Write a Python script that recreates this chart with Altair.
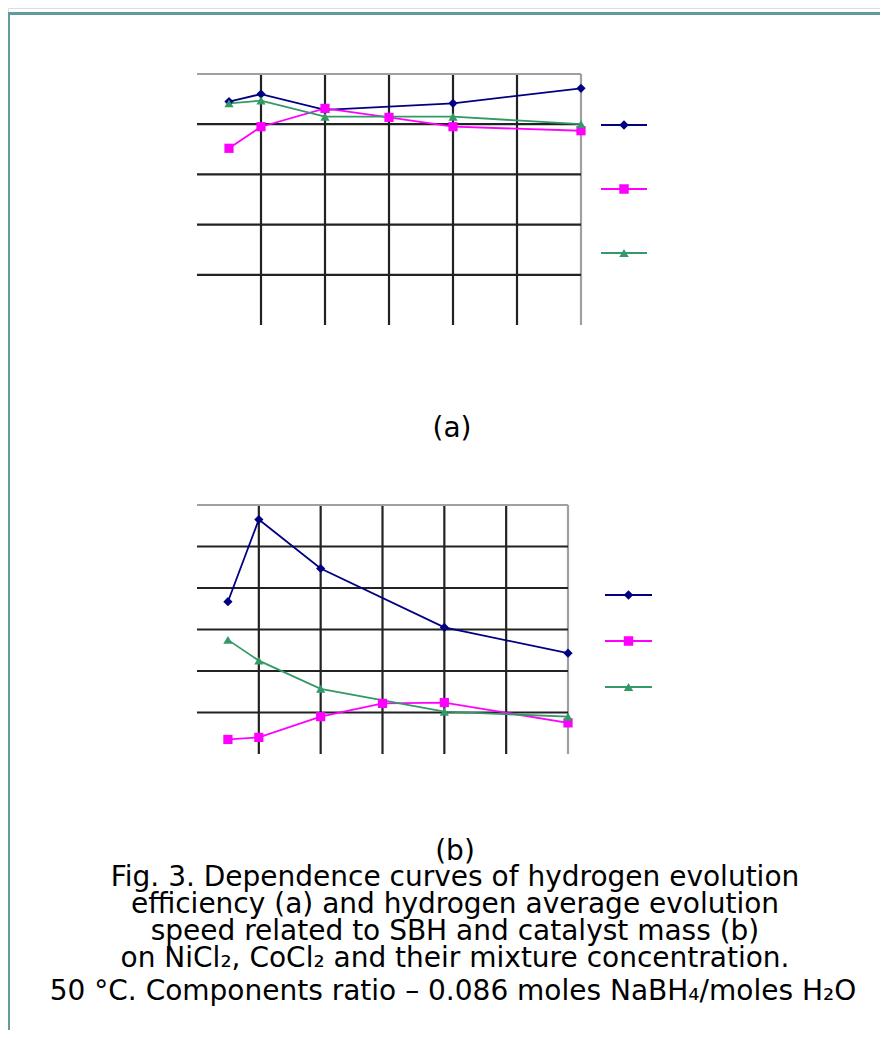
import altair as alt
import pandas as pd

# ---------------- data ----------------
series = ["NiCl2", "CoCl2", "NiCl2+CoCl2"]
series_colors = ["#000080", "#FF00FF", "#339966"]
series_shapes = ["diamond", "square", "triangle-up"]

# panel (a): hydrogen evolution efficiency
a_ni_x = [0.5, 1, 2, 4, 6]
a_ni_y = [89.0, 92.0, 85.7, 88.3, 94.3]
a_co_x = [0.5, 1, 2, 3, 4, 6]
a_co_y = [70.4, 79.0, 86.3, 82.7, 79.0, 77.4]
a_mix_x = [0.5, 1, 2, 4, 6]
a_mix_y = [88.3, 89.4, 83.0, 83.0, 80.0]

# panel (b): hydrogen average evolution speed
b_ni_x = [0.5, 1, 2, 4, 6]
b_ni_y = [3.67, 5.65, 4.47, 3.05, 2.43]
b_co_x = [0.5, 1, 2, 3, 4, 6]
b_co_y = [0.35, 0.40, 0.90, 1.22, 1.24, 0.75]
b_mix_x = [0.5, 1, 2, 4, 6]
b_mix_y = [2.75, 2.25, 1.57, 1.02, 0.90]

a_xgrid = [1, 2, 3, 4, 5, 6]
a_ygrid = [20, 40, 60, 80, 100]
b_xgrid = [1, 2, 3, 4, 5, 6]
b_ygrid = [1, 2, 3, 4, 5, 6]

caption_lines = [
    "(b)",
    "Fig. 3. Dependence curves of hydrogen evolution",
    "efficiency (a) and hydrogen average evolution",
    "speed related to SBH and catalyst mass (b)",
    "on NiCl\u2082, CoCl\u2082 and their mixture concentration.",
]
last_line = "50 \u00b0C. Components ratio \u2013 0.086 moles NaBH\u2084/moles H\u2082O"
label_a = "(a)"

FONT = "DejaVu Sans"
FS = 28


def long_df(xs_list, ys_list):
    rows = []
    for s, xs, ys in zip(series, xs_list, ys_list):
        for x, y in zip(xs, ys):
            rows.append({"series": s, "x": x, "y": y})
    return pd.DataFrame(rows)


def panel(df, xdom, ydom, xrange_, yrange_, xgrid, ygrid, leg_range, leg_x0, leg_x1):
    X = lambda f: alt.X(f, type="quantitative", scale=alt.Scale(domain=xdom, range=xrange_), axis=None)
    Y = lambda f: alt.Y(f, type="quantitative", scale=alt.Scale(domain=ydom, range=yrange_), axis=None)
    gcol = alt.Color("kind:N", scale=alt.Scale(domain=["inner", "outer"], range=["#222222", "#a0a0a0"]), legend=None)

    vg = pd.DataFrame({"x": xgrid, "y0": ydom[0], "y1": ydom[1],
                       "kind": ["outer" if v == xdom[1] else "inner" for v in xgrid]})
    hg = pd.DataFrame({"y": ygrid, "x0": xdom[0], "x1": xdom[1],
                       "kind": ["outer" if v == ydom[1] else "inner" for v in ygrid]})
    vrule = alt.Chart(vg).mark_rule(strokeWidth=2.2).encode(x=X("x"), y=Y("y0"), y2="y1", color=gcol)
    hrule = alt.Chart(hg).mark_rule(strokeWidth=2.2).encode(y=Y("y"), x=X("x0"), x2="x1", color=gcol)

    col = alt.Color("series:N", scale=alt.Scale(domain=series, range=series_colors), legend=None)
    shp = alt.Shape("series:N", scale=alt.Scale(domain=series, range=series_shapes), legend=None)
    lines = alt.Chart(df).mark_line(strokeWidth=1.8).encode(x=X("x"), y=Y("y"), color=col, detail="series:N")
    pts = alt.Chart(df).mark_point(filled=True, size=85, opacity=1).encode(
        x=X("x"), y=Y("y"), color=col, shape=shp)

    # legend (symbols only, as in the original)
    ldf = pd.DataFrame({"series": series})
    LY = alt.Y("series:N", scale=alt.Scale(type="point", domain=series, range=leg_range, padding=0), axis=None)
    leg_line = alt.Chart(ldf).mark_rule(strokeWidth=2).encode(
        y=LY, x=alt.value(leg_x0), x2=alt.value(leg_x1), color=col)
    leg_pt = alt.Chart(ldf).mark_point(filled=True, size=90, opacity=1).encode(
        y=LY, x=alt.value((leg_x0 + leg_x1) / 2), color=col, shape=shp)
    return [vrule, hrule, lines, pts, leg_line, leg_pt]


df_a = long_df([a_ni_x, a_co_x, a_mix_x], [a_ni_y, a_co_y, a_mix_y])
df_b = long_df([b_ni_x, b_co_x, b_mix_x], [b_ni_y, b_co_y, b_mix_y])

layers_a = panel(df_a, [0, 6], [0, 100], [189, 573], [317, 66], a_xgrid, a_ygrid,
                 [117, 245], 593, 639)
layers_b = panel(df_b, [0, 6], [0, 6], [189, 560], [746, 497], b_xgrid, b_ygrid,
                 [587, 679], 597, 644)

# frame (teal border, top and left)
frame_top = alt.Chart(pd.DataFrame({"k": [0]})).mark_rule(color="#5f9c9c", strokeWidth=3).encode(
    x=alt.value(0), x2=alt.value(872), y=alt.value(5.5))
frame_left = alt.Chart(pd.DataFrame({"k": [0]})).mark_rule(color="#5f9c9c", strokeWidth=3).encode(
    x=alt.value(0.5), y=alt.value(4), y2=alt.value(1022))

txt_a = alt.Chart(pd.DataFrame({"t": [label_a]})).mark_text(
    font=FONT, fontSize=FS, color="#000", baseline="middle", align="center").encode(
    text="t:N", x=alt.value(444), y=alt.value(421))

# caption block: one multi-line text item, tightly spaced as in the original
caption = alt.Chart(pd.DataFrame({"k": [0]})).mark_text(
    font=FONT, fontSize=FS, color="#000", baseline="alphabetic", align="center",
    lineHeight=26.75).encode(
    text=alt.value(caption_lines), x=alt.value(447), y=alt.value(851.5))

txt_last = alt.Chart(pd.DataFrame({"t": [last_line]})).mark_text(
    font=FONT, fontSize=FS, color="#000", baseline="middle", align="center").encode(
    text="t:N", x=alt.value(445), y=alt.value(984))

chart = alt.layer(
    *layers_a, *layers_b, frame_top, frame_left, txt_a, caption, txt_last
).resolve_scale(
    x="independent", y="independent", color="independent", shape="independent"
).properties(
    width=872, height=1022, autosize="none", padding=0
).configure_view(stroke=None).configure(background="white")

chart.save("out.html", embed_options={"renderer": "svg", "actions": False})
